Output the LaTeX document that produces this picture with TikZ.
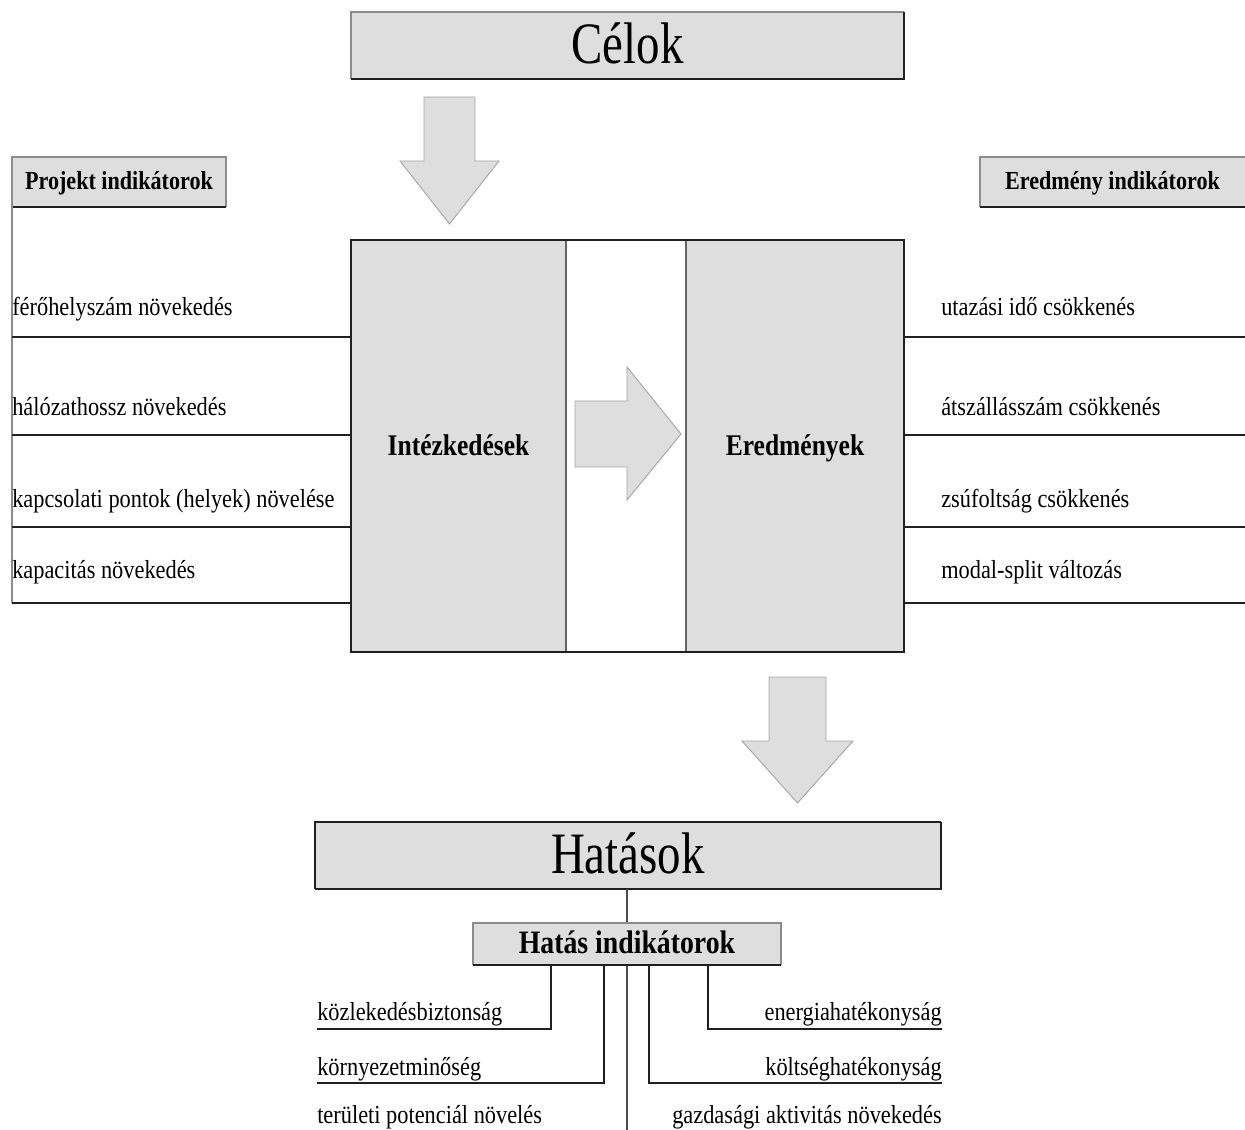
\documentclass[tikz,border=0pt]{standalone}
\usepackage{fontspec}
\setmainfont{Liberation Serif}
\newfontfamily\bodyfont[FakeStretch=0.86]{Liberation Serif}
\newfontfamily\headfont[FakeStretch=0.85]{Liberation Serif}
\newfontfamily\titlefont[FakeStretch=0.80]{Liberation Serif}
\definecolor{boxgray}{RGB}{222,222,222}
\definecolor{darkline}{RGB}{35,31,32}
\definecolor{edgegray}{RGB}{140,140,140}
\definecolor{arrowgray}{RGB}{165,165,165}
\begin{document}
\begin{tikzpicture}[x=0.75pt,y=-0.75pt,
  fillbox/.style={fill=boxgray, draw=none, inner sep=0pt, outer sep=0pt},
  liteedge/.style={draw=edgegray, line width=0.8pt},
  darkedge/.style={draw=darkline, line width=1.6pt},
  rulel/.style={draw=darkline, line width=1pt},
  divider/.style={draw=darkline!70, line width=1.1pt},
  bigarrow/.style={fill=boxgray, draw=arrowgray, line width=0.7pt, line join=miter},
  item/.style={inner sep=0pt, font=\bodyfont\fontsize{19.5pt}{22pt}\selectfont},
  head/.style={text height=13.65pt, text depth=1.95pt, font=\headfont\bfseries\fontsize{19.5pt}{22pt}\selectfont},
  midhead/.style={text height=15.75pt, text depth=2.25pt, font=\headfont\bfseries\fontsize{22.5pt}{25pt}\selectfont},
  subhead/.style={text height=17.15pt, text depth=2.45pt, font=\headfont\bfseries\fontsize{24.5pt}{27pt}\selectfont},
  title/.style={text height=30.8pt, text depth=4.4pt, font=\titlefont\fontsize{44pt}{48pt}\selectfont}
]
\useasboundingbox (0,0) rectangle (1245,1130);

% ---- Célok ----
\node[fillbox, minimum width=414.75pt, minimum height=50.25pt, title] (celok) at (627.5,45.5) {Célok};
\draw[liteedge] (celok.south west) |- (celok.north east);
\draw[darkedge] (celok.north east) |- (celok.south west);

% ---- arrow from Célok ----
\draw[bigarrow] (424,97) -- (475,97) -- (475,161) -- (499,161) -- (449.5,224) -- (400,161) -- (424,161) -- cycle;

% ---- central block ----
\node[fillbox, minimum width=161.25pt, minimum height=309pt, midhead] (intez) at (458.5,446) {Intézkedések};
\node[fill=white, inner sep=0pt, outer sep=0pt, minimum width=90pt, minimum height=309pt] (gap) at (626,446) {};
\node[fillbox, minimum width=163.5pt, minimum height=309pt, midhead] (ered) at (795,446) {Eredmények};
\draw[divider] (gap.north west) -- (gap.south west);
\draw[divider] (gap.north east) -- (gap.south east);
\draw[darkedge] (intez.north west) rectangle (ered.south east);

% ---- inner arrow ----
\draw[bigarrow] (575,401) -- (627,401) -- (627,367) -- (681,434) -- (627,500) -- (627,467) -- (575,467) -- cycle;

% ---- project indicators (left) ----
\node[fillbox, minimum width=160.5pt, minimum height=37.5pt, head] (proj) at (119,182) {Projekt indikátorok};
\draw[liteedge] (proj.south west) |- (proj.north east) -- (proj.south east);
\draw[rulel] (proj.south west) -- (proj.south east);
\coordinate (lb) at (12,603);
\draw[liteedge] (proj.north west) -- (lb);
\foreach \yy in {337,435,527,603} {
  \coordinate (l\yy) at (12,\yy);
  \draw[rulel] (l\yy) -- (l\yy -| intez.west);
}
\node[item, anchor=base west] (p1) at (12,316) {férőhelyszám növekedés};
\node[item, anchor=base west] (p2) at (12,415) {hálózathossz növekedés};
\node[item, anchor=base west] (p3) at (12,507) {kapcsolati pontok (helyek) növelése};
\node[item, anchor=base west] (p4) at (12,578) {kapacitás növekedés};

% ---- result indicators (right) ----
\node[fillbox, minimum width=198.75pt, minimum height=37.5pt, head] (eind) at (1112.5,182) {Eredmény indikátorok};
\draw[liteedge] (eind.south west) |- (eind.north east);
\draw[rulel] (eind.south west) -- (eind.south east);
\foreach \yy in {337,435,527,603} {
  \coordinate (r\yy) at (1245,\yy);
  \draw[rulel] (r\yy -| ered.east) -- (r\yy);
}
\node[item, anchor=base west] (e1) at (941,316) {utazási idő csökkenés};
\node[item, anchor=base west] (e2) at (941,415) {átszállásszám csökkenés};
\node[item, anchor=base west] (e3) at (941,507) {zsúfoltság csökkenés};
\node[item, anchor=base west] (e4) at (941,578) {modal-split változás};

% ---- arrow towards Hatások ----
\draw[bigarrow] (769,677) -- (826,677) -- (826,741) -- (853,741) -- (797.5,803) -- (742,741) -- (769,741) -- cycle;

% ---- Hatások ----
\node[fillbox, minimum width=469.5pt, minimum height=50.25pt, title] (hat) at (628,855.5) {Hatások};
\draw[rulel] (hat.south west) |- (hat.north east);
\draw[darkedge] (hat.north east) |- (hat.south west);

% ---- impact indicators ----
\coordinate (trunk) at (627,1130);
\draw[liteedge, draw=darkline!80] (hat.south -| trunk) -- (trunk);
\node[fillbox, minimum width=231pt, minimum height=31.5pt, subhead] (hind) at (627,944) {Hatás indikátorok};
\draw[liteedge] (hind.south west) |- (hind.north east) -- (hind.south east);
\draw[rulel] (hind.south west) -- (hind.south east);

\coordinate (k1) at (317,1029);
\coordinate (k2) at (317,1083);
\coordinate (k3) at (942,1083);
\coordinate (k4) at (942,1029);
\draw[rulel] (551,965) |- (k1);
\draw[rulel] (604,965) |- (k2);
\draw[rulel] (649,965) |- (k3);
\draw[rulel] (708,965) |- (k4);

\node[item, anchor=base west] (h1) at (317,1020) {közlekedésbiztonság};
\node[item, anchor=base west] (h2) at (317,1075) {környezetminőség};
\node[item, anchor=base west] (h3) at (317,1123) {területi potenciál növelés};
\node[item, anchor=base east] (h4) at (942,1020) {energiahatékonyság};
\node[item, anchor=base east] (h5) at (942,1075) {költséghatékonyság};
\node[item, anchor=base east] (h6) at (942,1123) {gazdasági aktivitás növekedés};
\end{tikzpicture}
\end{document}
